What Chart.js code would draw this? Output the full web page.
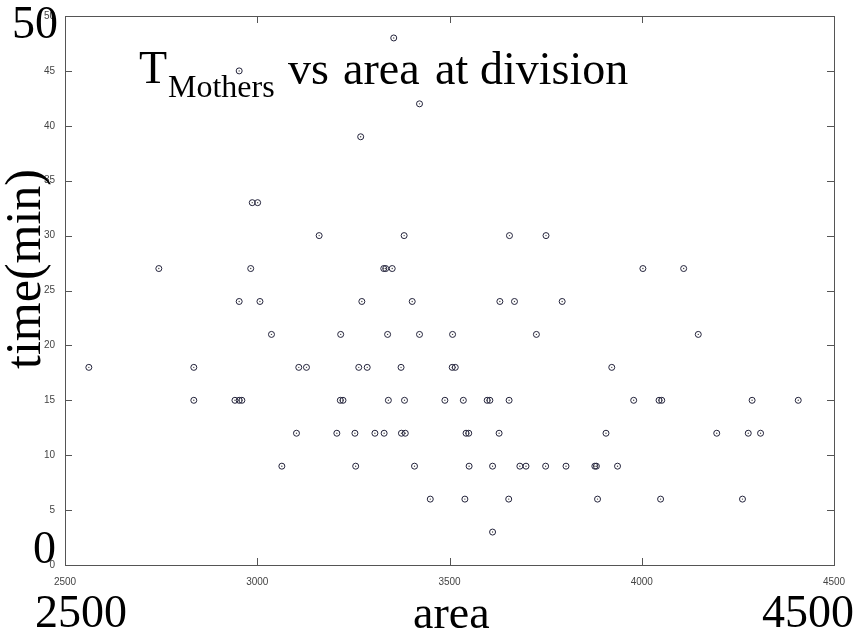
<!DOCTYPE html>
<html>
<head>
<meta charset="utf-8">
<title>T Mothers vs area at division</title>
<script src="https://cdn.jsdelivr.net/npm/chart.js@4"></script>
<style>
  html, body { margin: 0; padding: 0; background: #fff; }
  #wrap { width: 860px; height: 635px; }
</style>
</head>
<body>
<div id="wrap"><canvas id="divisionChart" width="860" height="635"></canvas></div>
<script>
// cell area at division (px^2) and matching mother cycle time (min)
const area = [
    3355,
    2953,
    3422,
    3269,
    2987, 3001,
    3161, 3382, 3656, 3751,
    2744, 2983, 3329, 3334, 3351, 4003, 4109,
    2953, 3007, 3272, 3403, 3631, 3669, 3793,
    3037, 3217, 3339, 3422, 3508, 3726, 4147,
    2562, 2835, 3108, 3128, 3264, 3286, 3374, 3507, 3515, 3922,
    2835, 2942, 2953, 2960, 3216, 3223, 3341, 3383, 3488, 3536, 3598, 3605, 3655, 3979, 4045, 4052, 4287, 4407,
    3102, 3207, 3254, 3306, 3330, 3375, 3385, 3543, 3550, 3629, 3907, 4195, 4277, 4309,
    3064, 3256, 3409, 3551, 3612, 3683, 3699, 3750, 3803, 3878, 3882, 3937,
    3450, 3540, 3654, 3885, 4049, 4262,
    3612
];
const minutes = [
    48,
    45,
    42,
    39,
    33, 33,
    30, 30, 30, 30,
    27, 27, 27, 27, 27, 27, 27,
    24, 24, 24, 24, 24, 24, 24,
    21, 21, 21, 21, 21, 21, 21,
    18, 18, 18, 18, 18, 18, 18, 18, 18, 18,
    15, 15, 15, 15, 15, 15, 15, 15, 15, 15, 15, 15, 15, 15, 15, 15, 15, 15,
    12, 12, 12, 12, 12, 12, 12, 12, 12, 12, 12, 12, 12, 12,
    9, 9, 9, 9, 9, 9, 9, 9, 9, 9, 9, 9,
    6, 6, 6, 6, 6, 6,
    3
];

const xTicks = [2500, 3000, 3500, 4000, 4500];
const yTicks = [0, 5, 10, 15, 20, 25, 30, 35, 40, 45, 50];

const points = area.map((a, i) => ({ x: a, y: minutes[i] }));

const SERIF = '"Liberation Serif", "Times New Roman", serif';

// box frame with inward tick marks on all four sides
const frameAndTicks = {
    id: 'frameAndTicks',
    beforeDatasetsDraw(chart) {
        const { ctx, chartArea: a, scales } = chart;
        const len = 7;
        ctx.save();
        ctx.lineWidth = 1;
        ctx.strokeStyle = '#555';
        ctx.strokeRect(Math.round(a.left) + 0.5, Math.round(a.top) + 0.5,
            Math.round(a.right - a.left), Math.round(a.bottom - a.top));
        ctx.beginPath();
        xTicks.forEach(v => {
            const px = Math.round(scales.x.getPixelForValue(v)) + 0.5;
            ctx.moveTo(px, a.bottom); ctx.lineTo(px, a.bottom - len);
            ctx.moveTo(px, a.top); ctx.lineTo(px, a.top + len);
        });
        yTicks.forEach(v => {
            const py = Math.round(scales.y.getPixelForValue(v)) + 0.5;
            ctx.moveTo(a.left, py); ctx.lineTo(a.left + len, py);
            ctx.moveTo(a.right, py); ctx.lineTo(a.right - len, py);
        });
        ctx.stroke();
        ctx.restore();
    }
};

// large serif labels and the title with its subscript
const bigLabels = {
    id: 'bigLabels',
    afterDraw(chart) {
        const { ctx } = chart;
        ctx.save();
        ctx.fillStyle = '#000';
        ctx.textBaseline = 'alphabetic';
        ctx.textAlign = 'left';

        ctx.font = '46px ' + SERIF;
        ctx.fillText('50', 12, 38);
        ctx.fillText('0', 33, 563);
        ctx.fillText('2500', 35, 627);
        ctx.fillText('4500', 762, 627);
        ctx.fillText('area', 413, 628);

        // title: T with subscript, then the rest word by word
        ctx.fillText('T', 139, 83);
        ctx.font = '32px ' + SERIF;
        ctx.fillText('Mothers', 168, 97);
        ctx.font = '46px ' + SERIF;
        ctx.fillText('vs', 288, 84);
        ctx.fillText('area', 343, 84);
        ctx.fillText('at', 435, 84);
        ctx.fillText('division', 480, 84);

        // y axis label, reading upward
        ctx.translate(40, 269);
        ctx.rotate(-Math.PI / 2);
        ctx.textAlign = 'center';
        ctx.font = '50px ' + SERIF;
        ctx.fillText('time(min)', 0, 0);
        ctx.restore();
    }
};

const tickFont = { family: 'Arial, "Liberation Sans", sans-serif', size: 10 };
const plain = v => String(v);

new Chart(document.getElementById('divisionChart'), {
    type: 'scatter',
    data: {
        datasets: [
            {
                data: points,
                pointStyle: 'circle',
                pointRadius: 3,
                pointBorderWidth: 1,
                pointBorderColor: '#22223a',
                pointBackgroundColor: 'rgba(0,0,0,0)'
            },
            {
                // centre dot of each marker
                data: points,
                pointStyle: 'circle',
                pointRadius: 0.7,
                pointBorderWidth: 0,
                pointBackgroundColor: '#444'
            }
        ]
    },
    options: {
        responsive: false,
        animation: false,
        layout: { padding: { top: 16, right: 26, bottom: 0, left: 0 } },
        plugins: {
            legend: { display: false },
            tooltip: { enabled: false }
        },
        scales: {
            x: {
                type: 'linear',
                min: 2500,
                max: 4500,
                afterFit: s => { s.height = 70; },
                afterBuildTicks: s => { s.ticks = xTicks.map(v => ({ value: v })); },
                grid: { display: false },
                border: { display: false },
                ticks: { font: tickFont, color: '#444', padding: 3, maxRotation: 0, autoSkip: false, callback: plain }
            },
            y: {
                min: 0,
                max: 50,
                afterFit: s => { s.width = 65; },
                afterBuildTicks: s => { s.ticks = yTicks.map(v => ({ value: v })); },
                grid: { display: false },
                border: { display: false },
                ticks: { font: tickFont, color: '#444', padding: 2, autoSkip: false, callback: plain }
            }
        }
    },
    plugins: [frameAndTicks, bigLabels]
});
</script>
</body>
</html>
